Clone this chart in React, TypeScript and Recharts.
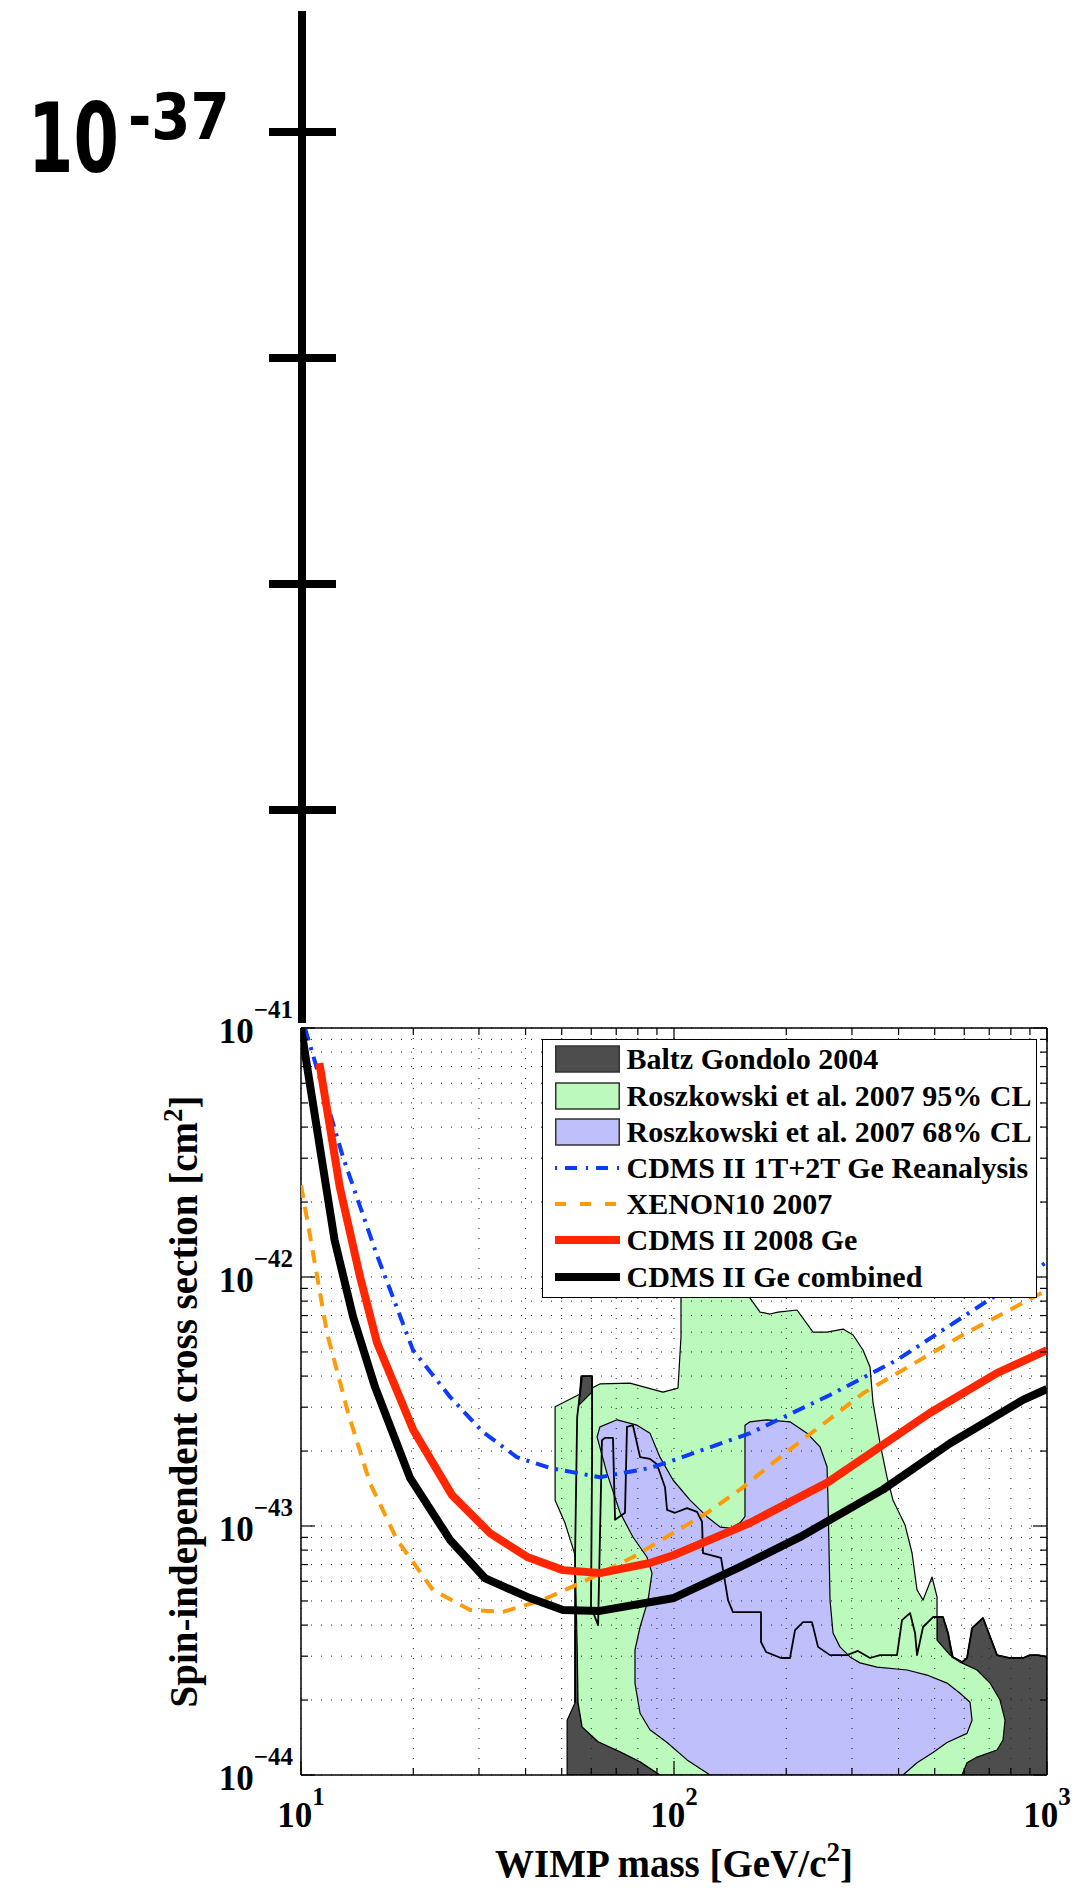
import React from 'react';
import { ComposedChart, Scatter, XAxis, YAxis, CartesianGrid, Legend } from 'recharts';

type Pair = [number, number];

// WIMP mass [GeV/c^2] vs spin-independent cross section [cm^2]

const baltzLow: Pair[] = [
  [51.7, 1e-44], [51.7, 1.66e-44], [54.3, 1.95e-44], [54.3, 3.82e-44], [55.3, 3.82e-44],
  [55.3, 1.95e-44], [56.7, 1.56e-44], [62.6, 1.36e-44], [71.7, 1.24e-44], [81.1, 1.13e-44], [91.7, 1e-44],
];

const baltzSpike: Pair[] = [[56.3, 4.0e-43], [60.3, 4.0e-43], [60.3, 3.45e-43], [55.6, 3.06e-43]];

const baltzHigh: Pair[] = [
  [507, 4.31e-44], [526, 4.31e-44], [543, 3.72e-44], [560, 2.98e-44], [592, 2.84e-44], [610, 2.95e-44],
  [630, 3.89e-44], [674, 4.27e-44], [735, 3.03e-44], [796, 2.95e-44], [862, 2.95e-44], [900, 3.03e-44],
  [946, 3.03e-44], [1000, 2.98e-44], [1000, 1e-44], [507, 1e-44],
];

const baltzOutline: Pair[] = [
  [54.3, 1.95e-44], [54.3, 7.64e-44], [55.0, 2.74e-43], [56.7, 4.0e-43], [60.3, 4.0e-43], [60.3, 1.84e-43],
  [59.9, 4.73e-44], [62.6, 4.0e-44], [64.1, 2.21e-43], [65.3, 2.26e-43], [68.6, 2.26e-43], [69.5, 1.06e-43],
  [73.9, 1.13e-43], [74.8, 2.5e-43], [77.6, 2.54e-43], [81.1, 1.89e-43], [86.2, 1.86e-43], [90.0, 1.77e-43],
  [94.6, 1.43e-43], [95.8, 1.16e-43], [100.6, 1.13e-43], [108.4, 1.18e-43], [115.3, 1.14e-43], [118.9, 1.04e-43],
  [119.6, 7.79e-44], [133.7, 7.44e-44], [139.6, 5.04e-44], [143.9, 4.51e-44], [171.1, 4.51e-44], [171.1, 3.42e-44],
  [176.5, 3.12e-44], [193.6, 2.95e-44], [204.6, 2.95e-44], [211.1, 3.82e-44], [221.8, 4.11e-44], [234.4, 4.11e-44],
  [243.3, 3.27e-44], [262.0, 3.03e-44], [290.9, 3.03e-44], [311.3, 3.15e-44], [335.4, 2.95e-44], [356.7, 3.03e-44],
  [396.2, 3.03e-44], [408.6, 4.19e-44], [429.3, 4.47e-44], [442.8, 3.72e-44], [448.3, 3.03e-44], [465.3, 3.93e-44],
  [494.8, 4.31e-44], [526.2, 4.31e-44], [542.7, 3.72e-44], [556.4, 2.98e-44], [591.8, 2.84e-44], [610.3, 2.95e-44],
  [629.5, 3.89e-44], [673.5, 4.27e-44], [734.5, 3.03e-44], [795.8, 2.95e-44], [862.3, 2.95e-44], [900.3, 3.03e-44],
  [946.0, 3.03e-44], [1000, 2.98e-44],
];

const roszkowski95: Pair[] = [
  [91.7, 1e-44], [81.1, 1.13e-44], [71.7, 1.24e-44], [62.6, 1.36e-44], [56.7, 1.56e-44], [55.3, 1.95e-44],
  [55.0, 3.27e-44], [54.3, 7.64e-44], [51.0, 1.03e-43], [48.0, 1.27e-43], [48.0, 3.01e-43], [63.3, 3.72e-43],
  [76.2, 3.75e-43], [93.4, 3.45e-43], [102.5, 3.58e-43], [104.4, 5.74e-43], [104.4, 9.29e-43], [159.9, 9.29e-43],
  [159.9, 8.23e-43], [170.1, 7.23e-43], [180.9, 7.1e-43], [190.1, 7.23e-43], [213.7, 7.37e-43], [235.9, 6.01e-43],
  [257.2, 6.01e-43], [283.9, 6.18e-43], [302.0, 5.85e-43], [321.1, 5.09e-43], [335.4, 4.35e-43], [341.7, 3.12e-43],
  [356.7, 2.15e-43], [372.4, 1.57e-43], [386.5, 1.27e-43], [416.3, 1.01e-43], [434.7, 7.79e-44], [448.3, 5.53e-44],
  [465.3, 5.04e-44], [491.8, 6.24e-44], [507.2, 5.19e-44], [507.2, 3.48e-44], [549.6, 3.03e-44], [584.6, 2.84e-44],
  [649.2, 2.64e-44], [703.5, 2.34e-44], [748.2, 2.0e-44], [771.7, 1.66e-44], [762.1, 1.38e-44], [734.5, 1.26e-44],
  [649.2, 1.18e-44], [610.3, 1.12e-44], [591.8, 1e-44],
];

const roszkowski68: Pair[] = [
  [62.2, 2.28e-43], [63.3, 2.5e-43], [70.4, 2.67e-43], [79.6, 2.54e-43], [86.2, 2.36e-43], [91.7, 1.89e-43],
  [99.4, 1.53e-43], [110.4, 1.27e-43], [122.6, 1.09e-43], [132.9, 9.9e-44], [141.3, 9.8e-44], [150.3, 1.03e-43],
  [155.0, 1.09e-43], [155.0, 2.54e-43], [159.9, 2.62e-43], [177.6, 2.67e-43], [204.6, 2.62e-43], [227.3, 2.36e-43],
  [246.3, 2.08e-43], [257.2, 1.73e-43], [258.8, 1.27e-43], [262.0, 5.04e-44], [266.9, 3.72e-44], [278.6, 3.27e-44],
  [296.4, 2.98e-44], [315.3, 2.82e-44], [350.1, 2.71e-44], [421.5, 2.64e-44], [476.8, 2.52e-44], [539.5, 2.34e-44],
  [584.6, 2.13e-44], [621.8, 1.96e-44], [629.5, 1.66e-44], [610.3, 1.47e-44], [539.5, 1.35e-44], [494.8, 1.23e-44],
  [448.3, 1.12e-44], [411.2, 1e-44], [124.9, 1e-44], [108.4, 1.15e-44], [95.8, 1.35e-44], [86.2, 1.52e-44],
  [81.1, 1.77e-44], [78.6, 2.34e-44], [78.6, 3.18e-44], [81.1, 3.93e-44], [85.2, 5.04e-44], [87.3, 6.47e-44],
  [84.6, 7.51e-44], [77.6, 9.03e-44], [71.7, 1.13e-43], [66.1, 1.63e-43],
];

const cdmsReanalysis: Pair[] = [
  [10.25, 1e-41], [12.96, 3.03e-42], [15.9, 1.25e-42], [19.96, 5.09e-43], [25.1, 3.3e-43], [30.7, 2.39e-43],
  [37.9, 1.89e-43], [46.5, 1.71e-43], [63.3, 1.57e-43], [86.2, 1.71e-43], [100, 1.84e-43], [160, 2.36e-43],
  [262, 3.36e-43], [396, 4.64e-43], [594, 6.9e-43], [1000, 1.15e-42],
];

const xenon10: Pair[] = [
  [10, 2.34e-42], [10.77, 1.25e-42], [11.74, 5.96e-43], [13.37, 2.85e-43], [15.3, 1.49e-43], [18.1, 8.79e-44],
  [22.6, 5.53e-44], [28.4, 4.6e-44], [34.8, 4.52e-44], [44.5, 5.05e-44], [57.0, 5.96e-44], [77.7, 7.51e-44],
  [122.6, 1.13e-43], [150.3, 1.4e-43], [196, 1.93e-43], [322, 3.42e-43], [594, 5.85e-43], [1000, 8.87e-43],
];

const cdms2008: Pair[] = [
  [11.2, 7.23e-42], [11.96, 4.0e-42], [12.7, 2.3e-42], [14.4, 1.0e-42], [16.0, 5.43e-43], [20.0, 2.43e-43],
  [25.4, 1.33e-43], [32.1, 9.37e-44], [40.4, 7.51e-44], [50.4, 6.65e-44], [63.3, 6.47e-44], [86.2, 7.1e-44],
  [100, 7.65e-44], [160, 1.03e-43], [257, 1.49e-43], [486, 2.85e-43], [734, 4.11e-43], [1000, 5.09e-43],
];

const cdmsCombined: Pair[] = [
  [10, 1e-41], [12.3, 1.41e-42], [13.8, 6.9e-43], [15.8, 3.61e-43], [19.6, 1.56e-43], [25.1, 8.79e-44],
  [31.1, 6.18e-44], [40.4, 5.19e-44], [50.4, 4.6e-44], [63.3, 4.56e-44], [100, 5.14e-44], [150, 6.84e-44],
  [218, 9.04e-44], [363, 1.4e-43], [550, 2.15e-43], [862, 3.21e-43], [1000, 3.55e-43],
];

const massTicks = [10, 20, 30, 40, 50, 60, 70, 80, 90, 100, 200, 300, 400, 500, 600, 700, 800, 900, 1000];
const sigmaTicks = [
  1e-44, 2e-44, 3e-44, 4e-44, 5e-44, 6e-44, 7e-44, 8e-44, 9e-44,
  1e-43, 2e-43, 3e-43, 4e-43, 5e-43, 6e-43, 7e-43, 8e-43, 9e-43,
  1e-42, 2e-42, 3e-42, 4e-42, 5e-42, 6e-42, 7e-42, 8e-42, 9e-42, 1e-41,
];

// the long stray axis above the plot
const upperTicks = [1e-40, 1e-39, 1e-38, 1e-37];
const upperLabelled = [1e-37];
const upperDomain = [1.14e-41, 3.43e-37];

const SERIF = '"Liberation Serif", "Times New Roman", serif';

const PATCH_COLORS: Record<string, string> = {
  'Baltz Gondolo 2004': '#4d4d4d',
  'Roszkowski et al. 2007 95% CL': '#bcf9bc',
  'Roszkowski et al. 2007 68% CL': '#bfbffc',
};

const LINE_STYLES: Record<string, { stroke: string; width: number; dash?: string; keyDash?: string }> = {
  'CDMS II 1T+2T Ge Reanalysis': { stroke: '#0b3bff', width: 4, dash: '13 7 3 7', keyDash: '2 8 12 9' },
  'XENON10 2007': { stroke: '#ff9a0a', width: 4, dash: '13 9', keyDash: '11 14' },
  'CDMS II 2008 Ge': { stroke: '#ff2600', width: 8 },
  'CDMS II Ge combined': { stroke: '#000000', width: 8 },
};

const LEGEND_ORDER = [
  'Baltz Gondolo 2004',
  'Roszkowski et al. 2007 95% CL',
  'Roszkowski et al. 2007 68% CL',
  'CDMS II 1T+2T Ge Reanalysis',
  'XENON10 2007',
  'CDMS II 2008 Ge',
  'CDMS II Ge combined',
];

const toPoints = (pairs: Pair[]) => pairs.map(([m, s]) => ({ m, s }));

const pathOf = (pts: any[], closed: boolean) => {
  const ok = pts.filter((p) => Number.isFinite(p.x) && Number.isFinite(p.y));
  if (!ok.length) return '';
  return ok.map((p, i) => `${i ? 'L' : 'M'}${p.x.toFixed(2)},${p.y.toFixed(2)}`).join(' ') + (closed ? ' Z' : '');
};

const patchLine = (fill: string) => (props: any) => (
  <path d={pathOf(props.points || [], true)} fill={fill} stroke="#000" strokeWidth={1.2} strokeLinejoin="round" />
);

const curveLine = (stroke: string, width: number, dash?: string) => (props: any) => (
  <path
    d={pathOf(props.points || [], false)}
    fill="none"
    stroke={stroke}
    strokeWidth={width}
    strokeDasharray={dash}
    strokeLinejoin="round"
  />
);

const noMarker = () => <g />;

const isDecade = (v: number) => Math.abs(Math.log10(v) - Math.round(Math.log10(v))) < 1e-6;
const expOf = (v: number) => Math.round(Math.log10(v));

const renderBottomTick = (props: any) => {
  const { x, y, payload } = props;
  const major = isDecade(payload.value);
  return (
    <g>
      <line x1={x} y1={y} x2={x} y2={y - (major ? 14 : 7)} stroke="#000" strokeWidth={1.2} />
      {major && (
        <text x={x} y={y + 52} textAnchor="middle" fontFamily={SERIF} fontWeight="bold" fontSize={35} fill="#000">
          10<tspan dy={-22} fontSize={25}>{expOf(payload.value)}</tspan>
        </text>
      )}
    </g>
  );
};

const renderTopTick = (props: any) => {
  const { x, y, payload } = props;
  const major = isDecade(payload.value);
  return <line x1={x} y1={y} x2={x} y2={y + (major ? 14 : 7)} stroke="#000" strokeWidth={1.2} />;
};

const renderLeftTick = (props: any) => {
  const { x, y, payload } = props;
  const major = isDecade(payload.value);
  return (
    <g>
      <line x1={x} y1={y} x2={x + (major ? 14 : 7)} y2={y} stroke="#000" strokeWidth={1.2} />
      {major && (
        <text x={x - 8} y={y + 15} textAnchor="end" fontFamily={SERIF} fontWeight="bold" fontSize={35} fill="#000">
          10<tspan dy={-25} fontSize={25}>{'\u2212' + Math.abs(expOf(payload.value))}</tspan>
        </text>
      )}
    </g>
  );
};

const renderRightTick = (props: any) => {
  const { x, y, payload } = props;
  const major = isDecade(payload.value);
  return <line x1={x} y1={y} x2={x - (major ? 14 : 7)} y2={y} stroke="#000" strokeWidth={1.2} />;
};

const renderUpperTick = (props: any) => {
  const { x, y, payload } = props;
  const labelled = upperLabelled.some((v) => Math.abs(Math.log10(v) - Math.log10(payload.value)) < 1e-6);
  return (
    <g>
      <line x1={x - 33} y1={y} x2={x + 34} y2={y} stroke="#000" strokeWidth={8} />
      {labelled && (
        <g fontFamily='"DejaVu Sans", sans-serif' fontWeight="bold" fill="#000">
          <g transform={`translate(${x - 274},${y + 40}) scale(0.68,1)`}>
            <text x={0} y={0} fontSize={96}>10</text>
          </g>
          <g transform={`translate(${x - 174},${y + 7}) scale(0.88,1)`}>
            <text x={0} y={0} fontSize={64}>{'-' + Math.abs(expOf(payload.value))}</text>
          </g>
        </g>
      )}
    </g>
  );
};

const renderXLabel = (props: any) => {
  const vb = props.viewBox || { x: 0, y: 0, width: 0 };
  return (
    <text x={vb.x + vb.width / 2} y={vb.y + 102} textAnchor="middle" fontFamily={SERIF} fontWeight="bold" fontSize={39} fill="#000">
      WIMP mass [GeV/c<tspan dy={-16} fontSize={27}>2</tspan><tspan dy={16}>]</tspan>
    </text>
  );
};

const renderYLabel = (props: any) => {
  const vb = props.viewBox || { x: 0, y: 0, width: 0, height: 0 };
  const cx = vb.x + vb.width - 104;
  const cy = vb.y + vb.height / 2;
  return (
    <text
      transform={`rotate(-90 ${cx} ${cy})`}
      x={cx}
      y={cy}
      textAnchor="middle"
      fontFamily={SERIF}
      fontWeight="bold"
      fontSize={39}
      fill="#000"
    >
      Spin-independent cross section [cm<tspan dy={-15} fontSize={27}>2</tspan><tspan dy={15}>]</tspan>
    </text>
  );
};

const renderLegend = (props: any) => {
  const entries = (props.payload || []).filter((e: any) => LEGEND_ORDER.includes(e.value));
  entries.sort((a: any, b: any) => LEGEND_ORDER.indexOf(a.value) - LEGEND_ORDER.indexOf(b.value));
  return (
    <div
      style={{
        boxSizing: 'border-box',
        width: 495,
        height: 259,
        border: '1.5px solid #000',
        background: '#fff',
        padding: '1.4px 0 0 11.5px',
      }}
    >
      {entries.map((e: any) => {
        const patch = PATCH_COLORS[e.value];
        const line = LINE_STYLES[e.value];
        return (
          <div key={e.value} style={{ display: 'flex', alignItems: 'center', height: 36.2 }}>
            <svg width={65} height={28} style={{ display: 'block', flex: '0 0 65px' }}>
              {patch ? (
                <rect x={0.75} y={1} width={63.5} height={26} fill={patch} stroke="#333" strokeWidth={1.5} />
              ) : (
                <line
                  x1={0}
                  y1={14}
                  x2={65}
                  y2={14}
                  stroke={line.stroke}
                  strokeWidth={line.width}
                  strokeDasharray={line.keyDash}
                />
              )}
            </svg>
            <span
              style={{
                marginLeft: 7,
                fontFamily: SERIF,
                fontWeight: 'bold',
                fontSize: 30,
                color: '#000',
                whiteSpace: 'nowrap',
              }}
            >
              {e.value}
            </span>
          </div>
        );
      })}
    </div>
  );
};

const App = () => {
  return (
    <div style={{ position: 'absolute', left: 0, top: 0, width: 1077, height: 1890, background: '#fff', overflow: 'hidden' }}>
      <div style={{ position: 'absolute', left: 0, top: 0 }}>
        <ComposedChart width={1077} height={1890} margin={{ top: 1027, right: 29, bottom: 114, left: 300 }}>
          <Scatter
            name="Baltz Gondolo 2004"
            data={toPoints(baltzLow)}
            line={patchLine(PATCH_COLORS['Baltz Gondolo 2004'])}
            lineType="joint"
            shape={noMarker}
            fill="#4d4d4d"
            legendType="rect"
            isAnimationActive={false}
            zIndex={-300}
          />
          <Scatter
            name="Baltz Gondolo 2004 (high mass)"
            data={toPoints(baltzHigh)}
            line={patchLine(PATCH_COLORS['Baltz Gondolo 2004'])}
            lineType="joint"
            shape={noMarker}
            legendType="none"
            isAnimationActive={false}
            zIndex={-300}
          />
          <Scatter
            name="Roszkowski et al. 2007 95% CL"
            data={toPoints(roszkowski95)}
            line={patchLine(PATCH_COLORS['Roszkowski et al. 2007 95% CL'])}
            lineType="joint"
            shape={noMarker}
            fill="#bcf9bc"
            legendType="rect"
            isAnimationActive={false}
            zIndex={-300}
          />
          <Scatter
            name="Roszkowski et al. 2007 68% CL"
            data={toPoints(roszkowski68)}
            line={patchLine(PATCH_COLORS['Roszkowski et al. 2007 68% CL'])}
            lineType="joint"
            shape={noMarker}
            fill="#bfbffc"
            legendType="rect"
            isAnimationActive={false}
            zIndex={-300}
          />
          <Scatter
            name="Baltz Gondolo 2004 (spike)"
            data={toPoints(baltzSpike)}
            line={patchLine(PATCH_COLORS['Baltz Gondolo 2004'])}
            lineType="joint"
            shape={noMarker}
            legendType="none"
            isAnimationActive={false}
            zIndex={-300}
          />
          <Scatter
            name="Baltz Gondolo outline"
            data={toPoints(baltzOutline)}
            line={curveLine('#000', 1.8)}
            lineType="joint"
            shape={noMarker}
            legendType="none"
            isAnimationActive={false}
            zIndex={-300}
          />
          <CartesianGrid stroke="#222" strokeWidth={1} strokeDasharray="1 9" />
          {['CDMS II 1T+2T Ge Reanalysis', 'XENON10 2007', 'CDMS II 2008 Ge', 'CDMS II Ge combined'].map((name) => {
            const st = LINE_STYLES[name];
            const src =
              name === 'CDMS II 1T+2T Ge Reanalysis'
                ? cdmsReanalysis
                : name === 'XENON10 2007'
                ? xenon10
                : name === 'CDMS II 2008 Ge'
                ? cdms2008
                : cdmsCombined;
            return (
              <Scatter
                key={name}
                name={name}
                data={toPoints(src)}
                line={curveLine(st.stroke, st.width, st.dash)}
                lineType="joint"
                shape={noMarker}
                fill={st.stroke}
                legendType="line"
                isAnimationActive={false}
              />
            );
          })}
          <XAxis
            dataKey="m"
            type="number"
            scale="log"
            domain={[10, 1000]}
            allowDataOverflow
            ticks={massTicks}
            interval={0}
            height={1}
            tickSize={0}
            tickMargin={0}
            tickLine={false}
            tick={renderBottomTick}
            axisLine={{ stroke: '#000', strokeWidth: 1.5 }}
            label={renderXLabel}
          />
          <XAxis
            xAxisId="top"
            orientation="top"
            dataKey="m"
            type="number"
            scale="log"
            domain={[10, 1000]}
            allowDataOverflow
            ticks={massTicks}
            interval={0}
            height={1}
            tickSize={0}
            tickMargin={0}
            tickLine={false}
            tick={renderTopTick}
            axisLine={{ stroke: '#000', strokeWidth: 1.5 }}
          />
          <YAxis
            dataKey="s"
            type="number"
            scale="log"
            domain={[1e-44, 1e-41]}
            allowDataOverflow
            ticks={sigmaTicks}
            interval={0}
            width={1}
            tickSize={0}
            tickMargin={0}
            tickLine={false}
            tick={renderLeftTick}
            axisLine={{ stroke: '#000', strokeWidth: 1.5 }}
            label={renderYLabel}
          />
          <YAxis
            yAxisId="right"
            orientation="right"
            dataKey="s"
            type="number"
            scale="log"
            domain={[1e-44, 1e-41]}
            allowDataOverflow
            ticks={sigmaTicks}
            interval={0}
            width={1}
            tickSize={0}
            tickMargin={0}
            tickLine={false}
            tick={renderRightTick}
            axisLine={{ stroke: '#000', strokeWidth: 1.5 }}
          />
          <Legend
            content={renderLegend}
            layout="horizontal"
            verticalAlign="middle"
            align="center"
            wrapperStyle={{ left: 542, top: 1039, width: 495, height: 259, margin: 0 }}
          />
        </ComposedChart>
      </div>
      <div style={{ position: 'absolute', left: 0, top: 0 }}>
        <ComposedChart width={1077} height={1030} margin={{ top: 11, right: 0, bottom: 7, left: 301 }}>
          <XAxis dataKey="m" type="number" domain={[0, 1]} hide />
          <YAxis
            dataKey="s"
            type="number"
            scale="log"
            domain={upperDomain}
            allowDataOverflow
            ticks={upperTicks}
            interval={0}
            width={1}
            tickSize={0}
            tickMargin={0}
            tickLine={false}
            tick={renderUpperTick}
            axisLine={{ stroke: '#000', strokeWidth: 8 }}
          />
          <Scatter
            data={upperTicks.map((s) => ({ m: 0.5, s }))}
            shape={noMarker}
            legendType="none"
            isAnimationActive={false}
          />
        </ComposedChart>
      </div>
    </div>
  );
};

export default App;
